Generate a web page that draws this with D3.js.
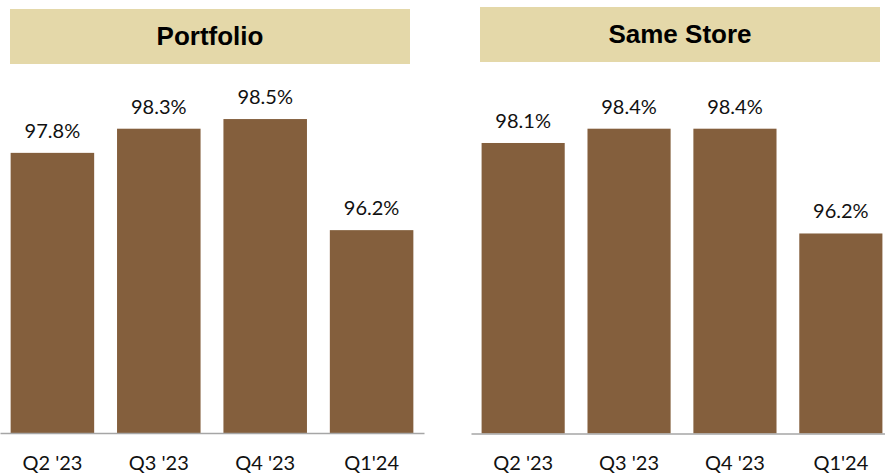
<!DOCTYPE html>
<html>
<head>
<meta charset="utf-8">
<script src="https://cdn.jsdelivr.net/npm/d3@7/dist/d3.min.js"></script>
<style>
  html, body { margin: 0; padding: 0; background: #ffffff; }
  svg { display: block; }
</style>
</head>
<body>
<svg id="chart" width="885" height="473"></svg>
<script>
// Occupancy by quarter
const quarters = ["Q2 '23", "Q3 '23", "Q4 '23", "Q1'24"];
const portfolioValues = [97.8, 98.3, 98.5, 96.2];
const sameStoreValues = [98.1, 98.4, 98.4, 96.2];
const panelTitles = ["Portfolio", "Same Store"];
const yDomain = [92, 100];

const BAR = "#845f3d";
const HEADER = "#e4d8a9";
const AXIS = "#a6a6a6";

const svg = d3.select("#chart");

const panels = [
  { title: panelTitles[0], values: portfolioValues,
    x: [0, 424], y: [433, 46.6], header: [10, 410, 9, 64], base: 433 },
  { title: panelTitles[1], values: sameStoreValues,
    x: [471, 893], y: [433.5, 52.5], header: [480, 880, 7, 62], base: 433.5 }
];

panels.forEach(p => {
  const g = svg.append("g");

  // title banner
  const [hx0, hx1, hy0, hy1] = p.header;
  g.append("rect")
    .attr("x", hx0).attr("y", hy0)
    .attr("width", hx1 - hx0).attr("height", hy1 - hy0)
    .attr("fill", HEADER);
  g.append("text")
    .attr("x", (hx0 + hx1) / 2)
    .attr("y", hy0 + 36)
    .attr("text-anchor", "middle")
    .attr("font-family", "'Liberation Sans', Arial, sans-serif")
    .attr("font-weight", "bold")
    .attr("font-size", 26)
    .attr("fill", "#000")
    .text(p.title);

  const x = d3.scaleBand()
    .domain(quarters)
    .range(p.x)
    .paddingInner(0.215)
    .paddingOuter(0.1);
  const y = d3.scaleLinear().domain(yDomain).range(p.y);

  const data = quarters.map((q, i) => ({ q, v: p.values[i] }));

  g.selectAll("rect.bar")
    .data(data)
    .join("rect")
    .attr("class", "bar")
    .attr("x", d => x(d.q))
    .attr("y", d => y(d.v))
    .attr("width", x.bandwidth())
    .attr("height", d => y(yDomain[0]) - y(d.v))
    .attr("fill", BAR);

  g.selectAll("text.val")
    .data(data)
    .join("text")
    .attr("class", "val")
    .attr("x", d => x(d.q) + x.bandwidth() / 2)
    .attr("y", d => y(d.v) - 15)
    .attr("text-anchor", "middle")
    .attr("font-family", "Lato, 'Open Sans', sans-serif")
    .attr("font-size", 20)
    .attr("fill", "#111")
    .text(d => d.v.toFixed(1) + "%");

  // category axis
  const axis = g.append("g")
    .attr("transform", `translate(0,${p.base})`)
    .call(d3.axisBottom(x).tickSize(0).tickSizeOuter(0));
  axis.select(".domain")
    .attr("stroke", AXIS)
    .attr("stroke-width", 1.5);
  axis.selectAll(".tick text")
    .attr("y", 36.5)
    .attr("dy", null)
    .attr("font-family", "Lato, 'Open Sans', sans-serif")
    .attr("font-size", 20)
    .attr("fill", "#111");
});
</script>
</body>
</html>
